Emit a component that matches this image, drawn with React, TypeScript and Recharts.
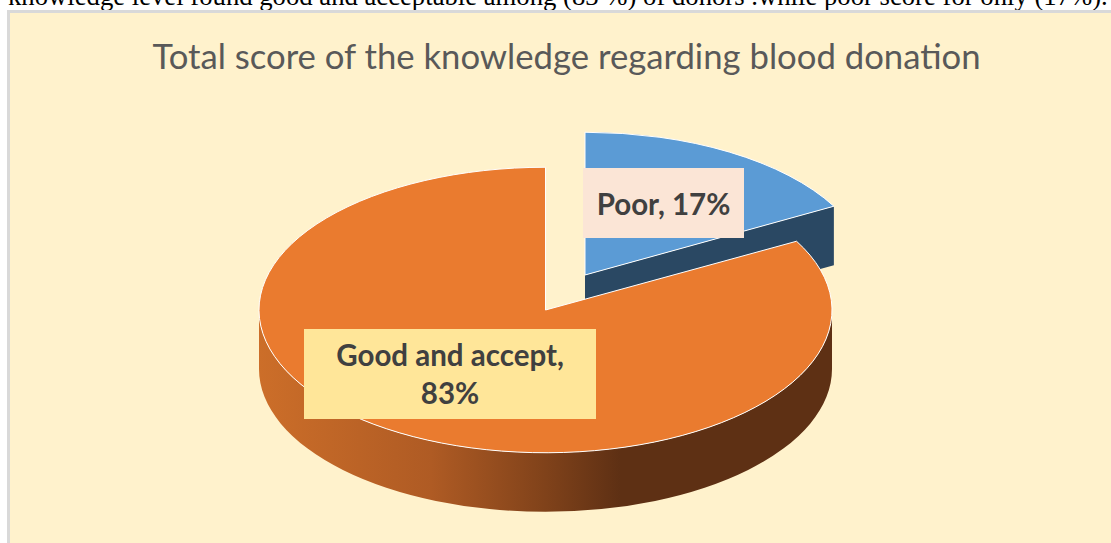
import React from "react";
import { PieChart, Pie } from "recharts";

const categories = ["Poor", "Good and accept"];
const scores = [17, 83];
const sliceColors = ["#5B9BD5", "#EA7B2F"];
const wallColors = ["#2A4863", "#5E3014"];
const labelColors = ["#FBE5D6", "#FFE699"];
const labelLines = [["Poor, 17%"], ["Good and accept,", "83%"]];

const WIDTH = 1111;
const HEIGHT = 543;
const CX = 545.5;
const CY = 310;
const RADIUS = 286.5;
const SQUASH = 143 / 287;
const DEPTH = 59;
const FONT = "Lato, 'Open Sans', sans-serif";

const TOP_TEXT =
  "knowledge level found good and acceptable among (83 %) of donors .while poor score for only (17%).";

const pieData = categories.map((name, i) => ({
  name,
  value: scores[i],
  fill: sliceColors[i],
}));

const rad = (a: number) => (a * Math.PI) / 180;

function Slice3D(props: any) {
  const { cx, cy, outerRadius, startAngle, endAngle, index } = props;
  // the small slice is pulled out of the pie and is a little narrower
  const r = index === 0 ? outerRadius - 2.5 : outerRadius;
  const ry = outerRadius * SQUASH;
  const ax = index === 0 ? cx + 39.5 : cx;
  const ay = index === 0 ? cy - 35 : cy;
  const pt = (a: number): [number, number] => [ax + r * Math.cos(rad(a)), ay - ry * Math.sin(rad(a))];
  const [sx, sy] = pt(startAngle);
  const [ex, ey] = pt(endAngle);
  const large = Math.abs(endAngle - startAngle) > 180 ? 1 : 0;
  const top = `M${ax},${ay} L${sx},${sy} A${r},${ry} 0 ${large} 1 ${ex},${ey} Z`;

  if (index === 0) {
    const wall = `M${ax},${ay} L${ex},${ey} L${ex},${ey + DEPTH} L${ax},${ay + DEPTH} Z`;
    return (
      <g>
        <path d={wall} fill={wallColors[0]} />
        <path d={top} fill={props.fill} stroke="#fff" strokeWidth={1} />
      </g>
    );
  }

  const side =
    `M${ax - r},${ay} A${r},${ry} 0 0 0 ${ax + r},${ay} L${ax + r},${ay + DEPTH} ` +
    `A${r},${ry} 0 0 1 ${ax - r},${ay + DEPTH} Z`;
  return (
    <g>
      <defs>
        <linearGradient id="orangeWall" x1="0" y1="0" x2="1" y2="0">
          <stop offset="0" stopColor="#CC6E29" />
          <stop offset="0.3" stopColor="#AF5B24" />
          <stop offset="0.5" stopColor="#80421A" />
          <stop offset="0.63" stopColor={wallColors[1]} />
          <stop offset="1" stopColor={wallColors[1]} />
        </linearGradient>
      </defs>
      <path d={side} fill="url(#orangeWall)" />
      <path d={top} fill={props.fill} stroke="#fff" strokeWidth={1} />
    </g>
  );
}

// label boxes sit at fixed offsets from the pie centre
const labelBoxes = [
  { dx: 37.5, dy: -142, w: 161, h: 70, base: [-95] },
  { dx: -241.5, dy: 19, w: 292, h: 90, base: [56, 94] },
];

function SliceLabel(props: any) {
  const { cx, cy, index } = props;
  const box = labelBoxes[index];
  const x = cx + box.dx;
  const y = cy + box.dy;
  return (
    <g>
      <rect x={x} y={y} width={box.w} height={box.h} fill={labelColors[index]} />
      {labelLines[index].map((line, i) => (
        <text
          key={line}
          x={x + box.w / 2}
          y={cy + box.base[i]}
          textAnchor="middle"
          fontFamily={FONT}
          fontWeight={700}
          fontSize={29.5}
          fill="#404040"
        >
          {line}
        </text>
      ))}
    </g>
  );
}

export default function App() {
  return (
    <div
      style={{
        position: "absolute",
        left: 0,
        top: 0,
        width: WIDTH,
        height: HEIGHT,
        overflow: "hidden",
        background: "#fff",
      }}
    >
      <div
        style={{
          position: "absolute",
          left: 8,
          top: -19,
          fontFamily: "'Liberation Serif', serif",
          fontSize: 26.7,
          lineHeight: "30px",
          whiteSpace: "nowrap",
          color: "#000",
        }}
      >
        {TOP_TEXT}
      </div>
      <div
        style={{
          position: "absolute",
          left: 7,
          top: 10,
          width: WIDTH,
          height: HEIGHT,
          boxSizing: "border-box",
          border: "3px solid #D9D9D9",
          background: "#FFF2CC",
        }}
      />
      <div style={{ position: "absolute", left: 0, top: 0 }}>
        <PieChart width={WIDTH} height={HEIGHT} margin={{ top: 0, right: 0, bottom: 0, left: 0 }}>
          <text
            x={566.5}
            y={69}
            textAnchor="middle"
            fontFamily={FONT}
            fontSize={34.7}
            fill="#595959"
          >
            Total score of the knowledge regarding blood donation
          </text>
          <Pie
            data={pieData}
            dataKey="value"
            nameKey="name"
            cx={CX}
            cy={CY}
            innerRadius={0}
            outerRadius={RADIUS}
            startAngle={90}
            endAngle={-270}
            shape={Slice3D}
            label={SliceLabel}
            labelLine={false}
            isAnimationActive={false}
          />
        </PieChart>
      </div>
    </div>
  );
}
